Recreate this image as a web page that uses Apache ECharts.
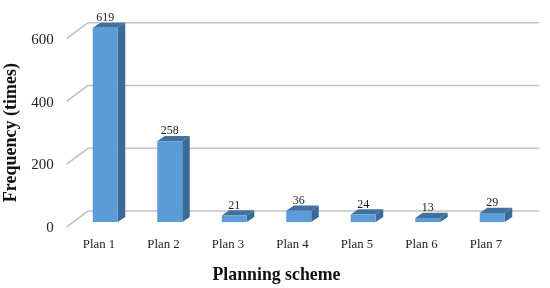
<!DOCTYPE html>
<html><head><meta charset="utf-8">
<style>html,body{margin:0;padding:0;background:#fff}#c{width:550px;height:288px}</style>
<script src="https://cdn.jsdelivr.net/npm/echarts@6/dist/echarts.min.js"></script>
</head><body><div id="c"></div>
<script>
const categories = ['Plan 1','Plan 2','Plan 3','Plan 4','Plan 5','Plan 6','Plan 7'];
const frequency = [619,258,21,36,24,13,29];
const yTicks = [0,200,400,600];
const FONT = '"Liberation Serif","Times New Roman",serif';
const chart = echarts.init(document.getElementById('c'), null, {renderer:'canvas'});
chart.setOption({
  animation:false,
  backgroundColor:'#fff',
  grid:{left:66.7,top:38.5,width:451.5,height:188.3,containLabel:false,outerBoundsMode:'none'},
  xAxis:{type:'category',data:categories,
    axisLine:{show:false},axisTick:{show:false},splitLine:{show:false},
    axisLabel:{color:'#222',fontFamily:FONT,fontSize:12.8,margin:11},
    name:'Planning scheme',nameLocation:'middle',nameGap:40,
    nameTextStyle:{fontFamily:FONT,fontWeight:'bold',fontSize:17.8,color:'#111',padding:[0,32,0,0]}},
  yAxis:{type:'value',min:0,max:600,interval:200,
    axisLine:{show:false},axisTick:{show:false},splitLine:{show:false},
    axisLabel:{color:'#222',fontFamily:FONT,fontSize:15,margin:13,verticalAlign:'middle',
      formatter:'{a|{value}}',rich:{a:{fontFamily:FONT,fontSize:15,color:'#222',padding:[3,0,0,0]}}},
    name:'Frequency (times)',nameLocation:'middle',nameGap:42,
    nameTextStyle:{fontFamily:FONT,fontWeight:'bold',fontSize:18,color:'#111'}},
  series:[
    {type:'custom',coordinateSystem:'cartesian2d',silent:true,z:1,
     data:yTicks.map(v=>[0,v]),encode:{x:0,y:1},
     renderItem(params,api){
       const y=api.coord([0,api.value(1)])[1], cs=params.coordSys;
       const x0=cs.x, xw=x0+21.3, x1=cs.x+cs.width+21.3;
       return {type:'polyline',shape:{points:[[x0,y],[xw,y-15.8],[x1,y-15.8]]},
         style:{stroke:'#c3c3c3',lineWidth:1.6,fill:null}};
     }},
    {type:'custom',coordinateSystem:'cartesian2d',silent:true,z:2,
     data:frequency.map((v,i)=>[i,v]),encode:{x:0,y:1},
     renderItem(params,api){
       const val=api.value(1);
       const p=api.coord([api.value(0),val]), b=api.coord([api.value(0),0]);
       const dx=7.5, dy=5.2, w=25;
       const l=p[0]+6.3-w/2, r=l+w, t=p[1]-4.7, bt=b[1]-4.7;
       return {type:'group',children:[
         {type:'polygon',shape:{points:[[r,t],[r+dx,t-dy],[r+dx,bt-dy],[r,bt]]},style:{fill:'#3a6a96'}},
         {type:'polygon',shape:{points:[[l,t],[l+dx,t-dy],[r+dx,t-dy],[r,t]]},style:{fill:'#41729f'}},
         {type:'rect',shape:{x:l,y:t,width:w,height:bt-t},style:{fill:'#5b9bd7'}},
         {type:'text',style:{text:String(val),x:l+w/2,y:t-10,align:'center',verticalAlign:'middle',
           fontFamily:FONT,fontSize:12,fill:'#222'}}
       ]};
     }}
  ]
});
</script></body></html>
